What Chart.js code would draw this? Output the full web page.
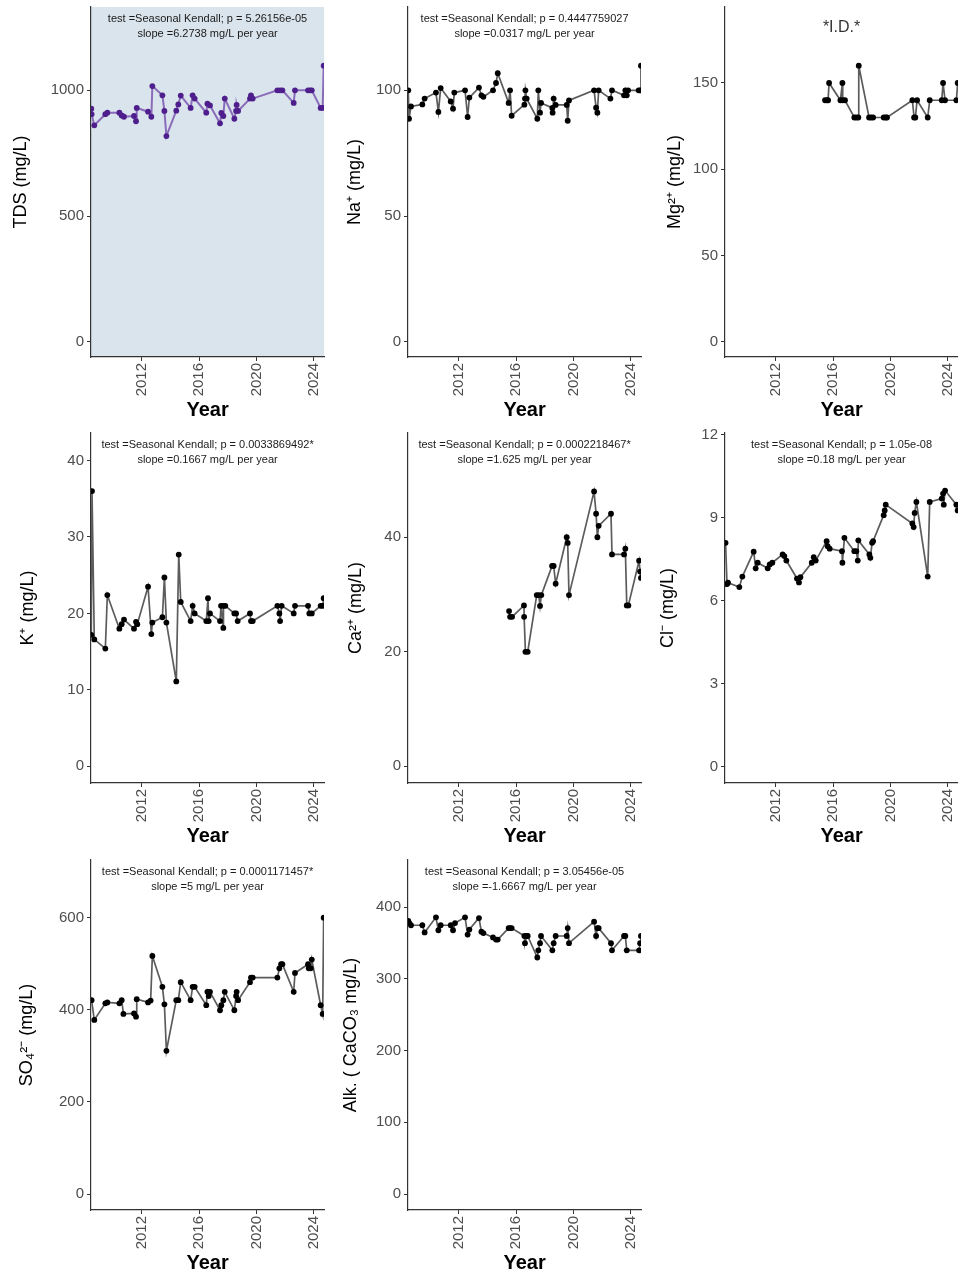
<!DOCTYPE html>
<html>
<head>
<meta charset="utf-8">
<script src="https://cdn.jsdelivr.net/npm/chart.js@4.4.1/dist/chart.umd.min.js"></script>
<style>
html,body{margin:0;padding:0;background:#fff;width:958px;height:1273px;overflow:hidden;position:relative;}
canvas{position:absolute;}
</style>
</head>
<body>
<canvas id="p1" width="327" height="425" style="left:0px;top:0px"></canvas>
<canvas id="p2" width="327" height="425" style="left:317px;top:0px"></canvas>
<canvas id="p3" width="327" height="425" style="left:634px;top:0px"></canvas>
<canvas id="p4" width="327" height="425" style="left:0px;top:426px"></canvas>
<canvas id="p5" width="327" height="425" style="left:317px;top:426px"></canvas>
<canvas id="p6" width="327" height="425" style="left:634px;top:426px"></canvas>
<canvas id="p7" width="327" height="425" style="left:0px;top:853px"></canvas>
<canvas id="p8" width="327" height="425" style="left:317px;top:853px"></canvas>
<script>
// ---------- shared x axis ----------
const xTicks = [2012, 2016, 2020, 2024];
const xMin = 2008.46, xMax = 2024.72;

// ---------- TDS ----------
const tdsYear = [2008.48, 2008.50, 2008.69, 2009.46, 2009.60, 2010.44, 2010.60, 2010.76, 2011.46, 2011.60, 2011.65, 2012.44, 2012.67, 2012.74, 2013.44, 2013.58, 2013.72, 2014.41, 2014.55, 2014.72, 2015.41, 2015.55, 2015.69, 2016.50, 2016.58, 2016.76, 2017.46, 2017.55, 2017.69, 2017.79, 2018.46, 2018.58, 2018.62, 2018.72, 2019.55, 2019.62, 2019.74, 2021.46, 2021.65, 2021.81, 2022.60, 2022.69, 2023.60, 2023.74, 2023.86, 2024.48, 2024.62, 2024.69];
const tdsVal = [927, 905, 861, 905, 911, 911, 900, 895, 898, 877, 930, 915, 895, 1017, 980, 918, 818, 919, 944, 979, 930, 980, 967, 911, 947, 940, 869, 910, 898, 967, 887, 918, 942, 918, 967, 980, 967, 1000, 1000, 1000, 950, 1000, 1000, 1000, 1000, 930, 930, 1098];
const tdsTicks = [0, 500, 1000];

// ---------- Na+ ----------
const naYear = [2008.48, 2008.53, 2008.67, 2009.46, 2009.62, 2010.41, 2010.58, 2010.74, 2011.44, 2011.60, 2011.69, 2012.44, 2012.62, 2012.74, 2013.41, 2013.58, 2013.72, 2014.39, 2014.60, 2014.72, 2015.48, 2015.58, 2015.69, 2016.58, 2016.62, 2016.65, 2016.74, 2017.48, 2017.55, 2017.67, 2017.74, 2018.53, 2018.55, 2018.62, 2018.76, 2019.53, 2019.60, 2019.69, 2021.44, 2021.58, 2021.67, 2021.76, 2022.58, 2022.69, 2023.53, 2023.62, 2023.72, 2023.81, 2024.55, 2024.65, 2024.71];
const naVal = [100, 88.7, 93.6, 94.4, 96.7, 99.1, 91.4, 100.9, 95.6, 92.7, 99.1, 100, 89.4, 97.1, 101.1, 98, 97.4, 100, 102.9, 106.8, 95, 100, 89.9, 94.3, 96.7, 100, 96.7, 88.7, 100, 91.1, 95, 93, 91.1, 96.7, 94.2, 94.2, 87.9, 96, 100, 93.1, 91.1, 100, 96.7, 100, 98, 100, 98, 100, 100, 100, 109.8];
const naTicks = [0, 50, 100];

// ---------- Mg2+ ----------
const mgYear = [2015.44, 2015.58, 2015.65, 2015.72, 2016.51, 2016.65, 2016.67, 2016.83, 2017.48, 2017.62, 2017.76, 2017.79, 2018.51, 2018.65, 2018.79, 2019.53, 2019.67, 2019.76, 2021.53, 2021.65, 2021.74, 2021.86, 2022.60, 2022.74, 2023.58, 2023.67, 2023.81, 2024.60, 2024.69];
const mgVal = [140, 140, 140, 150, 140, 150, 140, 140, 130, 130, 130, 160, 130, 130, 130, 130, 130, 130, 140, 130, 130, 140, 130, 140, 140, 150, 140, 140, 150];
const mgTicks = [0, 50, 100, 150];

// ---------- K+ ----------
const kYear = [2008.48, 2008.53, 2008.69, 2009.46, 2009.60, 2010.44, 2010.60, 2010.76, 2011.46, 2011.60, 2011.69, 2012.44, 2012.67, 2012.74, 2013.44, 2013.58, 2013.72, 2014.41, 2014.58, 2014.72, 2015.41, 2015.55, 2015.69, 2016.50, 2016.62, 2016.67, 2016.76, 2017.46, 2017.53, 2017.69, 2017.70, 2017.83, 2018.46, 2018.58, 2018.69, 2019.55, 2019.62, 2019.74, 2021.46, 2021.60, 2021.65, 2021.76, 2022.60, 2022.69, 2023.60, 2023.69, 2023.86, 2024.48, 2024.62, 2024.69];
const kVal = [17.2, 36, 16.6, 15.4, 22.4, 18, 18.6, 19.2, 18, 18.9, 18.6, 23.5, 17.3, 18.8, 19.5, 24.7, 18.8, 11.1, 27.7, 21.5, 19, 21, 20, 19, 22, 19, 20, 19, 21, 18.1, 21, 21, 20, 20, 19, 20, 19, 19, 21, 20, 19, 21, 20, 21, 21, 20, 20, 21, 21, 22];
const kTicks = [0, 10, 20, 30, 40];

// ---------- Ca2+ ----------
const caYear = [2015.51, 2015.58, 2015.72, 2016.55, 2016.56, 2016.65, 2016.81, 2017.44, 2017.58, 2017.67, 2017.76, 2018.51, 2018.62, 2018.76, 2019.53, 2019.60, 2019.69, 2021.44, 2021.58, 2021.67, 2021.76, 2022.62, 2022.69, 2023.53, 2023.62, 2023.72, 2023.83, 2024.58, 2024.65, 2024.71];
const caVal = [27.1, 26.1, 26.1, 28.1, 26.1, 20, 20, 29.9, 29.9, 28, 29.9, 35, 35, 31.9, 40, 39, 29.9, 48, 44.1, 40, 42, 44.1, 37, 37, 38, 28.1, 28.1, 35.9, 34, 32.9];
const caTicks = [0, 20, 40];

// ---------- Cl- ----------
const clYear = [2008.50, 2008.60, 2008.67, 2009.46, 2009.67, 2010.46, 2010.60, 2010.74, 2011.44, 2011.58, 2011.76, 2012.48, 2012.60, 2012.74, 2013.48, 2013.62, 2013.72, 2014.51, 2014.65, 2014.79, 2015.55, 2015.62, 2015.76, 2016.62, 2016.65, 2016.79, 2017.48, 2017.62, 2017.72, 2017.76, 2018.53, 2018.60, 2018.72, 2018.79, 2019.53, 2019.60, 2019.67, 2021.53, 2021.62, 2021.69, 2021.81, 2022.60, 2022.74, 2023.58, 2023.67, 2023.72, 2023.81, 2024.60, 2024.69];
const clVal = [8.09, 6.6, 6.65, 6.49, 6.87, 7.77, 7.17, 7.37, 7.17, 7.31, 7.37, 7.67, 7.61, 7.45, 6.8, 6.66, 6.85, 7.37, 7.57, 7.45, 8.15, 7.97, 7.88, 7.79, 7.37, 8.27, 7.79, 7.79, 7.45, 8.18, 7.67, 7.55, 8.09, 8.15, 9.09, 9.26, 9.47, 8.79, 8.66, 9.17, 9.57, 6.87, 9.57, 9.69, 9.87, 9.47, 9.98, 9.47, 9.26];
const clTicks = [0, 3, 6, 9, 12];

// ---------- SO4 2- ----------
const so4Year = [2008.50, 2008.69, 2009.46, 2009.60, 2010.44, 2010.60, 2010.72, 2011.46, 2011.60, 2011.65, 2012.44, 2012.62, 2012.74, 2013.44, 2013.58, 2013.72, 2014.41, 2014.55, 2014.72, 2015.41, 2015.55, 2015.69, 2016.50, 2016.58, 2016.67, 2016.76, 2017.46, 2017.55, 2017.69, 2017.79, 2018.46, 2018.58, 2018.62, 2018.72, 2019.55, 2019.62, 2019.74, 2021.46, 2021.60, 2021.72, 2021.81, 2022.60, 2022.69, 2023.60, 2023.65, 2023.79, 2023.86, 2024.48, 2024.62, 2024.69];
const so4Val = [421, 378, 414, 416, 414, 421, 391, 392, 385, 423, 416, 420, 517, 450, 412, 311, 421, 421, 460, 421, 450, 450, 410, 439, 430, 439, 399, 410, 421, 439, 399, 430, 439, 421, 460, 470, 470, 470, 490, 499, 499, 439, 480, 499, 490, 490, 509, 410, 391, 600];
const so4Ticks = [0, 200, 400, 600];

// ---------- Alkalinity ----------
const alkYear = [2008.48, 2008.55, 2008.67, 2009.46, 2009.62, 2010.41, 2010.58, 2010.74, 2011.44, 2011.60, 2011.74, 2012.44, 2012.62, 2012.74, 2013.41, 2013.58, 2013.72, 2014.39, 2014.60, 2014.72, 2015.48, 2015.58, 2015.69, 2016.58, 2016.62, 2016.74, 2016.81, 2017.48, 2017.55, 2017.67, 2017.74, 2018.53, 2018.62, 2018.76, 2019.53, 2019.60, 2019.69, 2021.44, 2021.58, 2021.67, 2021.76, 2022.62, 2022.69, 2023.53, 2023.62, 2023.72, 2024.58, 2024.65, 2024.71];
const alkVal = [381, 378, 375, 375, 365, 386, 368, 375, 375, 368, 378, 386, 362, 369, 385, 366, 364, 358, 355, 355, 371, 371, 371, 360, 350, 360, 360, 330, 340, 350, 360, 340, 350, 360, 360, 371, 350, 380, 360, 371, 371, 350, 340, 360, 360, 340, 340, 350, 360];
const alkTicks = [0, 100, 200, 300, 400];

// ---------- rendering ----------
const FONT = '"Liberation Sans", Arial, Helvetica, sans-serif';

const panelDecor = {
  id: 'panelDecor',
  beforeDraw(chart, args, o) {
    const a = chart.chartArea, ctx = chart.ctx;
    if (o.bg) {
      ctx.save();
      ctx.fillStyle = o.bg;
      ctx.fillRect(a.left, a.top, a.right - a.left, a.bottom - a.top);
      ctx.restore();
    }
  },
  afterDraw(chart, args, o) {
    const a = chart.chartArea, ctx = chart.ctx;
    if (!o.lines) return;
    ctx.save();
    ctx.textAlign = 'center';
    ctx.textBaseline = 'middle';
    ctx.fillStyle = o.color || '#1a1a1a';
    ctx.font = (o.size || 11) + 'px ' + FONT;
    const cx = (a.left + a.right) / 2;
    o.lines.forEach((t, i) => ctx.fillText(t, cx, a.top + o.y0 + i * (o.dy || 14.7)));
    ctx.restore();
  }
};

function makePanel(id, xs, ys, yMin, yMax, yTicks, yTitle, titlePad, decor, lineColor, pointColor, lineWidth) {
  const pts = xs.map((x, i) => ({x: x, y: ys[i]}));
  const gridCfg = {display: true, drawOnChartArea: false, drawTicks: true, tickLength: 4, color: '#333333', lineWidth: 1};
  const borderCfg = {display: true, color: '#333333', width: 1.2};
  return new Chart(document.getElementById(id), {
    type: 'line',
    data: {datasets: [{
      data: pts,
      borderColor: lineColor,
      borderWidth: lineWidth,
      pointRadius: 2.9,
      pointHoverRadius: 2.9,
      pointBackgroundColor: pointColor,
      pointBorderWidth: 0,
      tension: 0,
      fill: false,
      clip: 0
    }]},
    options: {
      responsive: false,
      animation: false,
      devicePixelRatio: 1,
      events: [],
      layout: {padding: {top: 7, left: 0, right: 0, bottom: 0}},
      plugins: {legend: {display: false}, tooltip: {enabled: false}, panelDecor: decor},
      scales: {
        x: {
          type: 'linear', min: xMin, max: xMax,
          afterBuildTicks: s => { s.ticks = xTicks.map(v => ({value: v})); },
          afterFit: s => { s.height = 68; s.paddingLeft = 0; s.paddingRight = 0; },
          grid: gridCfg, border: borderCfg,
          ticks: {minRotation: 90, maxRotation: 90, autoSkip: false, padding: 2, color: '#4d4d4d',
                  font: {family: FONT, size: 15}, callback: v => String(v)},
          title: {display: true, text: 'Year', color: '#000000',
                  font: {family: FONT, size: 20, weight: 'bold'}, padding: {top: 0, bottom: 3}}
        },
        y: {
          type: 'linear', min: yMin, max: yMax,
          afterBuildTicks: s => { s.ticks = yTicks.map(v => ({value: v})); },
          afterFit: s => { s.width = 91; s.paddingTop = 0; s.paddingBottom = 0; },
          grid: gridCfg, border: borderCfg,
          ticks: {padding: 3, color: '#4d4d4d', font: {family: FONT, size: 15}, callback: v => String(v)},
          title: {display: true, text: yTitle, color: '#000000',
                  font: {family: FONT, size: 18}, padding: {top: titlePad, bottom: 0}}
        }
      }
    },
    plugins: [panelDecor]
  });
}

const BLACK_LINE = '#5c5c5c';
const note = (l1, l2) => ({lines: [l1, l2], y0: 12.3, dy: 14.7, size: 11, color: '#1a1a1a'});

makePanel('p1', tdsYear, tdsVal, -59.6, 1331, tdsTicks, 'TDS (mg/L)', 9.9,
  Object.assign({bg: '#dae4ec'}, note('test =Seasonal Kendall; p = 5.26156e-05', 'slope =6.2738 mg/L per year')),
  '#8b6cba', '#4e1f8c', 2);
makePanel('p2', naYear, naVal, -5.96, 133.1, naTicks, 'Na\u207A (mg/L)', 27.2,
  note('test =Seasonal Kendall; p = 0.4447759027', 'slope =0.0317 mg/L per year'),
  BLACK_LINE, '#000000', 1.7);
makePanel('p3', mgYear, mgVal, -8.69, 194, mgTicks, 'Mg\u00B2\u207A (mg/L)', 30.2,
  {lines: ['*I.D.*'], y0: 20.5, size: 16, color: '#333333'},
  BLACK_LINE, '#000000', 1.7);
makePanel('p4', kYear, kVal, -2.18, 43.6, kTicks, 'K\u207A (mg/L)', 17.5,
  note('test =Seasonal Kendall; p = 0.0033869492*', 'slope =0.1667 mg/L per year'),
  BLACK_LINE, '#000000', 1.7);
makePanel('p5', caYear, caVal, -2.91, 58.2, caTicks, 'Ca\u00B2\u207A (mg/L)', 27.9,
  note('test =Seasonal Kendall; p = 0.0002218467*', 'slope =1.625 mg/L per year'),
  BLACK_LINE, '#000000', 1.7);
makePanel('p6', clYear, clVal, -0.59, 12.06, clTicks, 'Cl\u207B (mg/L)', 23.5,
  note('test =Seasonal Kendall; p = 1.05e-08', 'slope =0.18 mg/L per year'),
  BLACK_LINE, '#000000', 1.7);
makePanel('p7', so4Year, so4Val, -34.7, 725.3, so4Ticks, 'SO\u2084\u00B2\u207B (mg/L)', 16.5,
  note('test =Seasonal Kendall; p = 0.0001171457*', 'slope =5 mg/L per year'),
  BLACK_LINE, '#000000', 1.7);
makePanel('p8', alkYear, alkVal, -22.3, 466, alkTicks, 'Alk. ( CaCO\u2083 mg/L)', 22.9,
  note('test =Seasonal Kendall; p = 3.05456e-05', 'slope =-1.6667 mg/L per year'),
  BLACK_LINE, '#000000', 1.7);
</script>
</body>
</html>
